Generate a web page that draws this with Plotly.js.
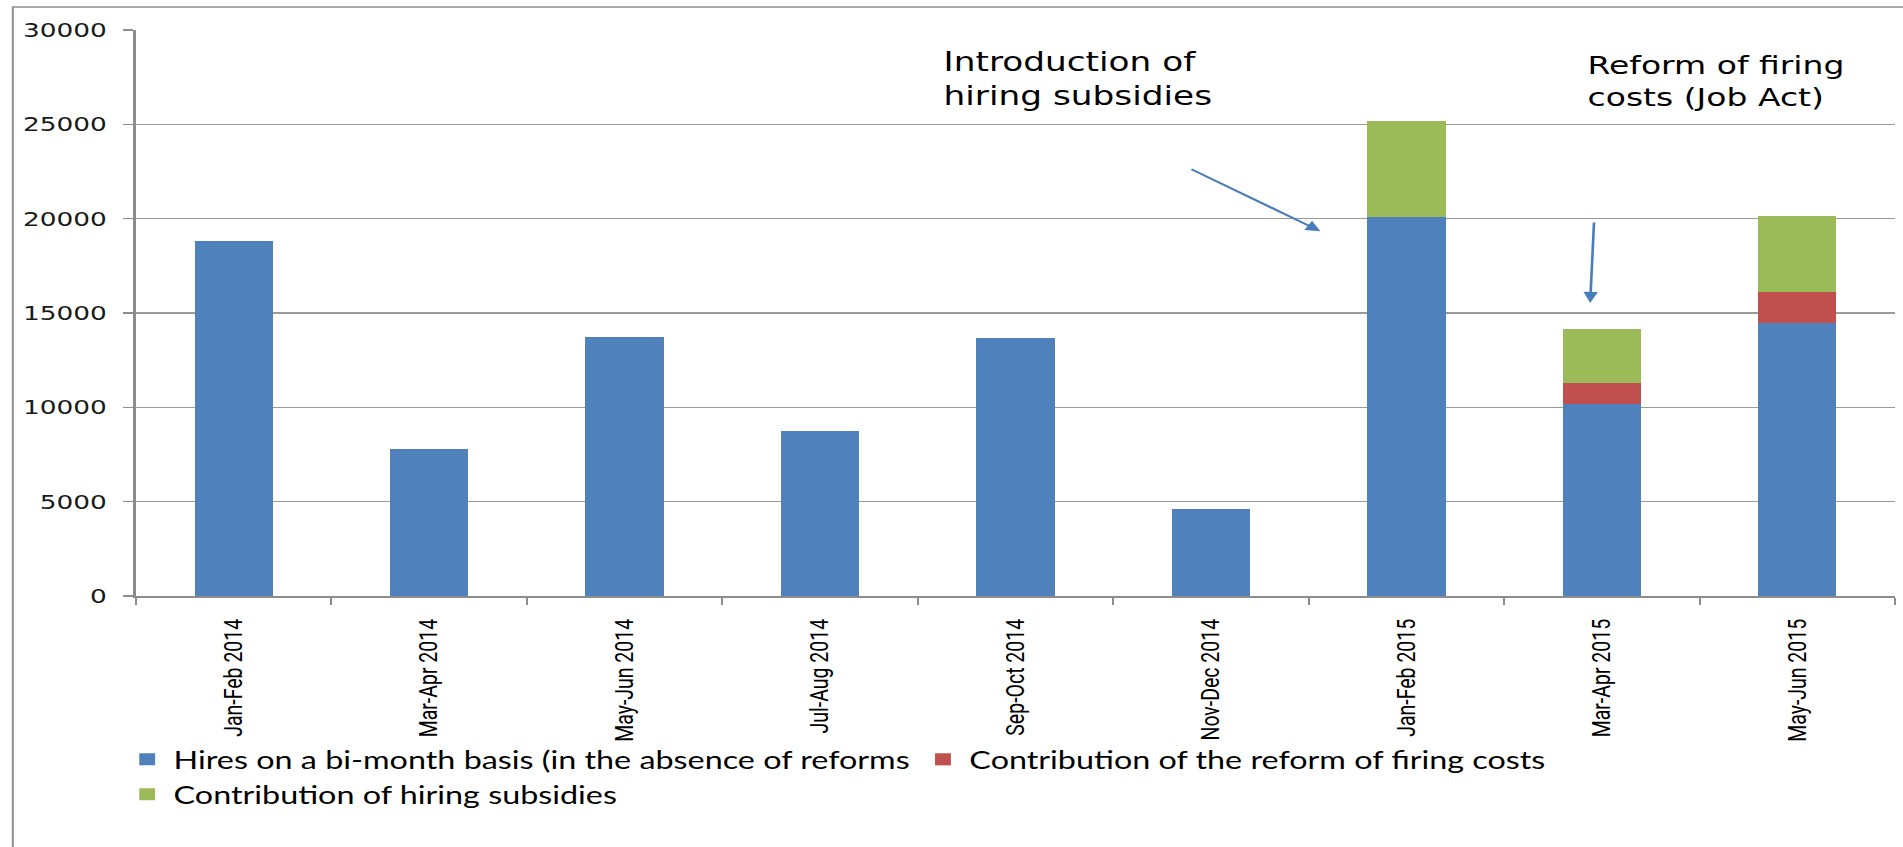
<!DOCTYPE html>
<html>
<head>
<meta charset="utf-8">
<script src="https://cdn.plot.ly/plotly-3.0.1.min.js"></script>
<style>
  html, body { margin: 0; padding: 0; background: #ffffff; overflow: hidden; }
  #chart { width: 1442px; height: 847px; transform: scaleX(1.3197); transform-origin: 0 0; }
</style>
</head>
<body>
<div id="chart"></div>
<script>
const categories = ['Jan-Feb 2014', 'Mar-Apr 2014', 'May-Jun 2014', 'Jul-Aug 2014', 'Sep-Oct 2014',
                    'Nov-Dec 2014', 'Jan-Feb 2015', 'Mar-Apr 2015', 'May-Jun 2015'];
const hires     = [18800, 7800, 13750, 8750, 13700, 4600, 20100, 10200, 14450];
const firing    = [null, null, null, null, null, null, null, 1100, 1650];
const subsidies = [null, null, null, null, null, null, 5100, 2850, 4050];
const seriesNames = ['Hires on a bi-month basis (in the absence of reforms',
                     'Contribution of the reform of firing costs',
                     'Contribution of hiring subsidies'];
const yTicks = [0, 5000, 10000, 15000, 20000, 25000, 30000];

const traces = [
  { type: 'bar', x: categories, y: hires, name: seriesNames[0], marker: { color: '#4F81BD' } },
  { type: 'bar', x: categories, y: firing, name: seriesNames[1], marker: { color: '#C0504D' } },
  { type: 'bar', x: categories, y: subsidies, name: seriesNames[2], marker: { color: '#9BBB59' } }
];

const layout = {
  width: 1442, height: 847,
  margin: { l: 103, r: 6, t: 30, b: 251 },
  paper_bgcolor: '#ffffff', plot_bgcolor: '#ffffff',
  barmode: 'stack', bargap: 0.6,
  showlegend: true,
  legend: {
    orientation: 'h', x: -0.0086, xanchor: 'left', y: -0.249, yanchor: 'top',
    bgcolor: 'rgba(0,0,0,0)',
    font: { family: 'Lato, Carlito, sans-serif', size: 24.5, color: '#000000' },
    itemclick: false, traceorder: 'normal'
  },
  xaxis: {
    type: 'category', range: [-0.5, 8.5], tickson: 'boundaries',
    ticks: 'outside', ticklen: 7, tickwidth: 1.5, tickcolor: '#8c8c8c',
    showline: true, linecolor: '#8c8c8c', linewidth: 2,
    showgrid: false, tickangle: -90, ticklabelstandoff: 13,
    tickfont: { family: 'Roboto, Lato, sans-serif', size: 19.5, color: '#000000' }
  },
  yaxis: {
    range: [0, 30000], tickvals: yTicks, tickformat: 'd',
    ticks: 'outside', ticklen: 8, tickwidth: 1.5, tickcolor: '#8c8c8c',
    showline: true, linecolor: '#8c8c8c', linewidth: 2,
    showgrid: true, gridcolor: '#9a9a9a', gridwidth: 1.5, zeroline: false,
    ticklabelstandoff: 8,
    tickfont: { family: 'DejaVu Sans, Verdana, sans-serif', size: 20, color: '#1a1a1a' }
  },
  shapes: [
    { type: 'rect', xref: 'paper', yref: 'paper', x0: -0.0700, x1: 1.2, y0: -0.6, y1: 1.0406,
      line: { color: '#8c8c8c', width: 1.5 }, fillcolor: 'rgba(0,0,0,0)', layer: 'below' }
  ],
  annotations: [
    { x: 3.62, y: 29200, xref: 'x', yref: 'y', xanchor: 'left', yanchor: 'top', align: 'left',
      text: 'Introduction of<br>hiring subsidies', showarrow: false,
      font: { family: 'DejaVu Sans, Verdana, sans-serif', size: 26, color: '#000000' } },
    { x: 6.91, y: 29000, xref: 'x', yref: 'y', xanchor: 'left', yanchor: 'top', align: 'left',
      text: 'Reform of firing<br>costs (Job Act)', showarrow: false,
      font: { family: 'DejaVu Sans, Verdana, sans-serif', size: 25, color: '#000000' } },
    { x: 5.56, y: 19330, ax: 4.89, ay: 22670, axref: 'x', ayref: 'y', xref: 'x', yref: 'y',
      text: '', showarrow: true, arrowhead: 2, arrowsize: 1.1, arrowwidth: 2, arrowcolor: '#4A7EBB' },
    { x: 6.94, y: 15535, ax: 6.96, ay: 19880, axref: 'x', ayref: 'y', xref: 'x', yref: 'y',
      text: '', showarrow: true, arrowhead: 2, arrowsize: 1.1, arrowwidth: 2, arrowcolor: '#4A7EBB' }
  ]
};

Plotly.newPlot('chart', traces, layout, { displayModeBar: false, staticPlot: true });
</script>
</body>
</html>
